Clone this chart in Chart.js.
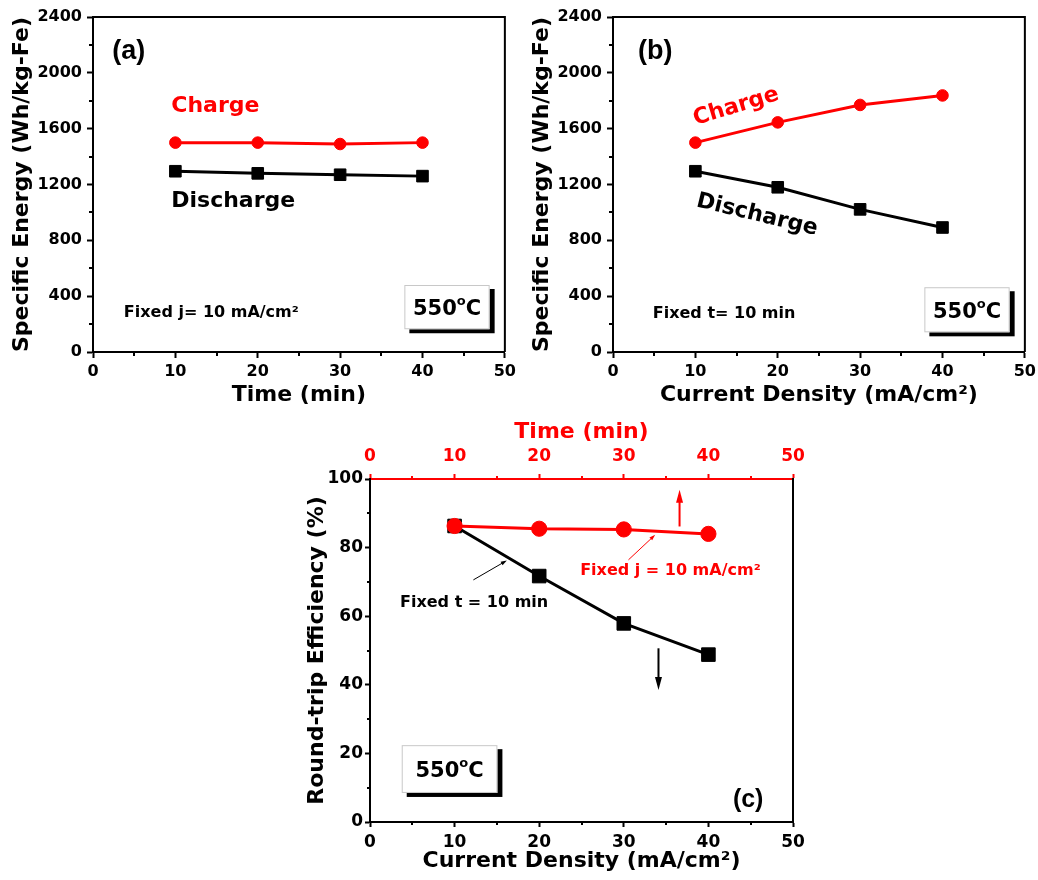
<!DOCTYPE html>
<html><head><meta charset="utf-8">
<script src="https://cdn.jsdelivr.net/npm/chart.js@4.4.1/dist/chart.umd.min.js"></script>
<style>
html,body{margin:0;padding:0;background:#fff;width:1038px;height:880px;overflow:hidden;position:relative}
canvas{position:absolute}
</style></head><body>
<canvas id="ca" width="520" height="420" style="left:0;top:0"></canvas>
<canvas id="cb" width="520" height="420" style="left:520px;top:0"></canvas>
<canvas id="cc" width="520" height="470" style="left:300px;top:410px"></canvas>
<script>
// ---------- data ----------
const timeMin = [10, 20, 30, 40];
const currentDensity = [10, 20, 30, 40];
const chargeEnergyVsTime = [1500, 1500, 1490, 1500];
const dischargeEnergyVsTime = [1295, 1280, 1270, 1260];
const chargeEnergyVsCurrent = [1500, 1645, 1770, 1838];
const dischargeEnergyVsCurrent = [1295, 1180, 1022, 892];
const efficiencyVsTime = [86.3, 85.5, 85.3, 84.0];
const efficiencyVsCurrent = [86.3, 71.7, 57.9, 48.8];
// tick values (labels shown on the values listed in the *Major arrays)
const xTickValues = [0, 5, 10, 15, 20, 25, 30, 35, 40, 45, 50];
const xTickMajor = [0, 10, 20, 30, 40, 50];
const energyTickValues = [0, 200, 400, 600, 800, 1000, 1200, 1400, 1600, 1800, 2000, 2200, 2400];
const energyTickMajor = [0, 400, 800, 1200, 1600, 2000, 2400];
const effTickValues = [0, 10, 20, 30, 40, 50, 60, 70, 80, 90, 100];
const effTickMajor = [0, 20, 40, 60, 80, 100];

const RED = '#ff0000', BLACK = '#000000';
const FAM = "'DejaVu Sans', sans-serif";
const FAM2 = "'Liberation Sans', Arial, sans-serif";
Chart.defaults.font.family = FAM;
Chart.defaults.font.weight = 'bold';
Chart.defaults.color = BLACK;

function pts(xs, ys) { return xs.map((x, i) => ({ x: x, y: ys[i] })); }

function axis(o) {
  return {
    type: 'linear', position: o.position, min: o.min, max: o.max,
    afterBuildTicks: s => { s.ticks = o.values.map(v => ({ value: v })); },
    afterFit: s => { if (s.isHorizontal()) s.height = o.fit; else s.width = o.fit; },
    ticks: {
      autoSkip: false, maxRotation: 0, minRotation: 0, color: o.color, padding: o.tickPad,
      font: { size: o.tickSize, weight: 'bold', family: FAM },
      callback: v => (o.major.indexOf(v) >= 0 ? String(v) : '')
    },
    grid: {
      display: true, drawOnChartArea: false, drawTicks: true, tickLength: o.tickLen, tickWidth: 2,
      tickColor: c => (c.tick && o.major.indexOf(c.tick.value) >= 0 ? o.color : 'rgba(0,0,0,0)')
    },
    border: { display: true, color: o.color, width: 2 },
    title: {
      display: true, text: o.title, color: o.color,
      font: { size: o.titleSize, weight: 'bold', family: FAM },
      padding: o.titlePad
    }
  };
}

const minorTicks = {
  id: 'minorTicks',
  afterDraw(chart, args, opts) {
    const ctx = chart.ctx;
    (opts.items || []).forEach(it => {
      const s = chart.scales[it.axis];
      ctx.save(); ctx.strokeStyle = it.color; ctx.lineWidth = 2; ctx.beginPath();
      s.ticks.forEach(t => {
        if (it.major.indexOf(t.value) >= 0) return;
        const p = Math.round(s.getPixelForValue(t.value));
        if (s.position === 'bottom') { ctx.moveTo(p, s.top); ctx.lineTo(p, s.top + it.len); }
        else if (s.position === 'top') { ctx.moveTo(p, s.bottom); ctx.lineTo(p, s.bottom - it.len); }
        else { ctx.moveTo(s.right, p); ctx.lineTo(s.right - it.len, p); }
      });
      ctx.stroke(); ctx.restore();
    });
  }
};

function arrow(ctx, x1, y1, x2, y2, lw, hl, hw, color) {
  const a = Math.atan2(y2 - y1, x2 - x1);
  ctx.save(); ctx.strokeStyle = color; ctx.fillStyle = color; ctx.lineWidth = lw;
  ctx.beginPath(); ctx.moveTo(x1, y1);
  ctx.lineTo(x2 - Math.cos(a) * hl * 0.8, y2 - Math.sin(a) * hl * 0.8); ctx.stroke();
  ctx.translate(x2, y2); ctx.rotate(a);
  ctx.beginPath(); ctx.moveTo(0, 0); ctx.lineTo(-hl, -hw / 2); ctx.lineTo(-hl, hw / 2); ctx.closePath(); ctx.fill();
  ctx.restore();
}

const annot = {
  id: 'annot',
  afterDraw(chart, args, opts) {
    const ctx = chart.ctx, ca = chart.chartArea;
    // frame
    ctx.save(); ctx.strokeStyle = BLACK; ctx.lineWidth = 2; ctx.beginPath();
    if (opts.frameTop) { ctx.moveTo(ca.left, ca.top); ctx.lineTo(ca.right, ca.top); }
    ctx.moveTo(ca.right, ca.top - 1); ctx.lineTo(ca.right, ca.bottom);
    ctx.stroke(); ctx.restore();
    (opts.items || []).forEach(it => {
      const xs = chart.scales[it.xAxis || 'x'], ys = chart.scales.y;
      if (it.type === 'text') {
        ctx.save();
        ctx.translate(xs.getPixelForValue(it.x), ys.getPixelForValue(it.y));
        if (it.rot) ctx.rotate(it.rot * Math.PI / 180);
        ctx.font = 'bold ' + it.size + 'px ' + (it.fam || FAM); ctx.fillStyle = it.color || BLACK;
        ctx.textAlign = it.align || 'left'; ctx.textBaseline = 'middle';
        ctx.fillText(it.text, 0, 0); ctx.restore();
      } else if (it.type === 'box') {
        const x1 = xs.getPixelForValue(it.x1), x2 = xs.getPixelForValue(it.x2);
        const y1 = ys.getPixelForValue(it.y1), y2 = ys.getPixelForValue(it.y2);
        ctx.save();
        ctx.fillStyle = BLACK; ctx.fillRect(x1 + 5, y1 + 4, x2 - x1, y2 - y1);
        ctx.fillStyle = '#fff'; ctx.fillRect(x1, y1, x2 - x1, y2 - y1);
        ctx.strokeStyle = '#c8c8c8'; ctx.lineWidth = 1; ctx.strokeRect(x1 + 0.5, y1 + 0.5, x2 - x1 - 1, y2 - y1 - 1);
        // "550" + superscript "o" + "C"
        const big = 'bold 21px ' + FAM, small = 'bold 13px ' + FAM;
        ctx.font = big; const w1 = ctx.measureText(it.main).width, w3 = ctx.measureText(it.unit).width;
        ctx.font = small; const w2 = ctx.measureText(it.sup).width;
        let x = (x1 + x2) / 2 - (w1 + w2 + w3) / 2; const yb = (y1 + y2) / 2 + 8;
        ctx.fillStyle = BLACK; ctx.textAlign = 'left'; ctx.textBaseline = 'alphabetic';
        ctx.font = big; ctx.fillText(it.main, x, yb); x += w1;
        ctx.font = small; ctx.fillText(it.sup, x, yb - 10); x += w2;
        ctx.font = big; ctx.fillText(it.unit, x, yb);
        ctx.restore();
      } else if (it.type === 'arrow') {
        arrow(ctx, xs.getPixelForValue(it.x1), ys.getPixelForValue(it.y1),
          xs.getPixelForValue(it.x2), ys.getPixelForValue(it.y2), it.lw, it.hl, it.hw, it.color);
      }
    });
  }
};

function energyChart(id, xTitle, charge, discharge, xs, items, xTitlePad) {
  return new Chart(document.getElementById(id), {
    type: 'line',
    data: {
      datasets: [
        { label: 'Charge', data: pts(xs, charge), borderColor: RED, backgroundColor: RED, borderWidth: 3,
          pointStyle: 'circle', pointRadius: 5.8, pointBorderWidth: 1, pointBackgroundColor: RED, pointBorderColor: RED, tension: 0 },
        { label: 'Discharge', data: pts(xs, discharge), borderColor: BLACK, backgroundColor: BLACK, borderWidth: 3,
          pointStyle: 'rect', pointRadius: 8.2, pointBorderWidth: 1, pointBackgroundColor: BLACK, pointBorderColor: BLACK, tension: 0 }
      ]
    },
    options: {
      responsive: false, animation: false, devicePixelRatio: 1,
      layout: { padding: { left: 0, top: 17, right: 13, bottom: 0 } },
      plugins: {
        legend: { display: false }, tooltip: { enabled: false },
        minorTicks: { items: [
          { axis: 'x', major: xTickMajor, len: 4, color: BLACK },
          { axis: 'y', major: energyTickMajor, len: 4, color: BLACK } ] },
        annot: { frameTop: true, items: items }
      },
      scales: {
        x: axis({ position: 'bottom', min: 0, max: 50, values: xTickValues, major: xTickMajor, color: BLACK,
          fit: 68, tickSize: 16, tickPad: 4, tickLen: 6, title: xTitle, titleSize: 22, titlePad: { top: 0, bottom: xTitlePad } }),
        y: axis({ position: 'left', min: 0, max: 2400, values: energyTickValues, major: energyTickMajor, color: BLACK,
          fit: 93, tickSize: 16, tickPad: 5, tickLen: 6, title: 'Specific Energy (Wh/kg-Fe)', titleSize: 22, titlePad: { top: 9, bottom: 0 } })
      }
    },
    plugins: [minorTicks, annot]
  });
}

energyChart('ca', 'Time (min)', chargeEnergyVsTime, dischargeEnergyVsTime, timeMin, [
  { type: 'text', x: 4.35, y: 2149, text: '(a)', size: 27, align: 'center', fam: FAM2 },
  { type: 'text', x: 9.5, y: 1762, text: 'Charge', size: 22, color: RED },
  { type: 'text', x: 9.5, y: 1077, text: 'Discharge', size: 22 },
  { type: 'text', x: 3.74, y: 279, text: 'Fixed j= 10 mA/cm\u00B2', size: 16 },
  { type: 'box', x1: 37.8, x2: 48.15, y1: 480, y2: 163, main: '550', sup: 'o', unit: 'C' }
], 12);

energyChart('cb', 'Current Density (mA/cm\u00B2)', chargeEnergyVsCurrent, dischargeEnergyVsCurrent, currentDensity, [
  { type: 'text', x: 5.13, y: 2149, text: '(b)', size: 27, align: 'center', fam: FAM2 },
  { type: 'text', x: 14.94, y: 1757, text: 'Charge', size: 22, color: RED, align: 'center', rot: -16.7 },
  { type: 'text', x: 17.5, y: 981, text: 'Discharge', size: 22, align: 'center', rot: 13.5 },
  { type: 'text', x: 4.83, y: 272, text: 'Fixed t= 10 min', size: 16 },
  { type: 'box', x1: 37.8, x2: 48.15, y1: 464, y2: 141, main: '550', sup: 'o', unit: 'C' }
], 12);

new Chart(document.getElementById('cc'), {
  type: 'line',
  data: {
    datasets: [
      { label: 'Fixed j = 10 mA/cm2', data: pts(timeMin, efficiencyVsTime), xAxisID: 'x2', yAxisID: 'y',
        borderColor: RED, backgroundColor: RED, borderWidth: 3, pointStyle: 'circle', pointRadius: 7.6, pointBorderWidth: 1,
        pointBackgroundColor: RED, pointBorderColor: RED, tension: 0 },
      { label: 'Fixed t = 10 min', data: pts(currentDensity, efficiencyVsCurrent), xAxisID: 'x', yAxisID: 'y',
        borderColor: BLACK, backgroundColor: BLACK, borderWidth: 3, pointStyle: 'rect', pointRadius: 9.6, pointBorderWidth: 1,
        pointBackgroundColor: BLACK, pointBorderColor: BLACK, tension: 0 }
    ]
  },
  options: {
    responsive: false, animation: false, devicePixelRatio: 1,
    layout: { padding: { left: 0, top: 0, right: 27, bottom: 0 } },
    plugins: {
      legend: { display: false }, tooltip: { enabled: false },
      minorTicks: { items: [
        { axis: 'x', major: xTickMajor, len: 3, color: BLACK },
        { axis: 'x2', major: xTickMajor, len: 3, color: RED },
        { axis: 'y', major: effTickMajor, len: 3, color: BLACK } ] },
      annot: { frameTop: false, items: [
        { type: 'text', x: 44.7, y: 6.4, text: '(c)', size: 25, align: 'center', fam: FAM2 },
        { type: 'box', x1: 3.75, x2: 15.06, y1: 22.4, y2: 8.47, main: '550', sup: 'o', unit: 'C' },
        { type: 'text', xAxis: 'x2', x: 24.84, y: 73.2, text: 'Fixed j = 10 mA/cm\u00B2', size: 16, color: RED },
        { type: 'text', x: 3.55, y: 63.8, text: 'Fixed t = 10 min', size: 16 },
        { type: 'arrow', xAxis: 'x2', x1: 36.59, y1: 86.16, x2: 36.59, y2: 96.88, lw: 2, hl: 13, hw: 7, color: RED },
        { type: 'arrow', x1: 34.10, y1: 50.64, x2: 34.10, y2: 38.46, lw: 2, hl: 13, hw: 7, color: BLACK },
        { type: 'arrow', xAxis: 'x2', x1: 30.55, y1: 76.43, x2: 33.71, y2: 83.73, lw: 1, hl: 6, hw: 4, color: RED },
        { type: 'arrow', x1: 12.22, y1: 70.59, x2: 16.17, y2: 76.23, lw: 1, hl: 6, hw: 4, color: BLACK }
      ] }
    },
    scales: {
      x: axis({ position: 'bottom', min: 0, max: 50, values: xTickValues, major: xTickMajor, color: BLACK,
        fit: 58, tickSize: 17, tickPad: 5, tickLen: 5, title: 'Current Density (mA/cm\u00B2)', titleSize: 22, titlePad: { top: 0, bottom: 6 } }),
      x2: axis({ position: 'top', min: 0, max: 50, values: xTickValues, major: xTickMajor, color: RED,
        fit: 69, tickSize: 17, tickPad: 7, tickLen: 5, title: 'Time (min)', titleSize: 22, titlePad: { top: 9, bottom: 0 } }),
      y: axis({ position: 'left', min: 0, max: 100, values: effTickValues, major: effTickMajor, color: BLACK,
        fit: 70, tickSize: 17, tickPad: 2, tickLen: 5, title: 'Round-trip Efficiency (%)', titleSize: 22, titlePad: { top: 4, bottom: 0 } })
    }
  },
  plugins: [minorTicks, annot]
});
</script>
</body></html>
